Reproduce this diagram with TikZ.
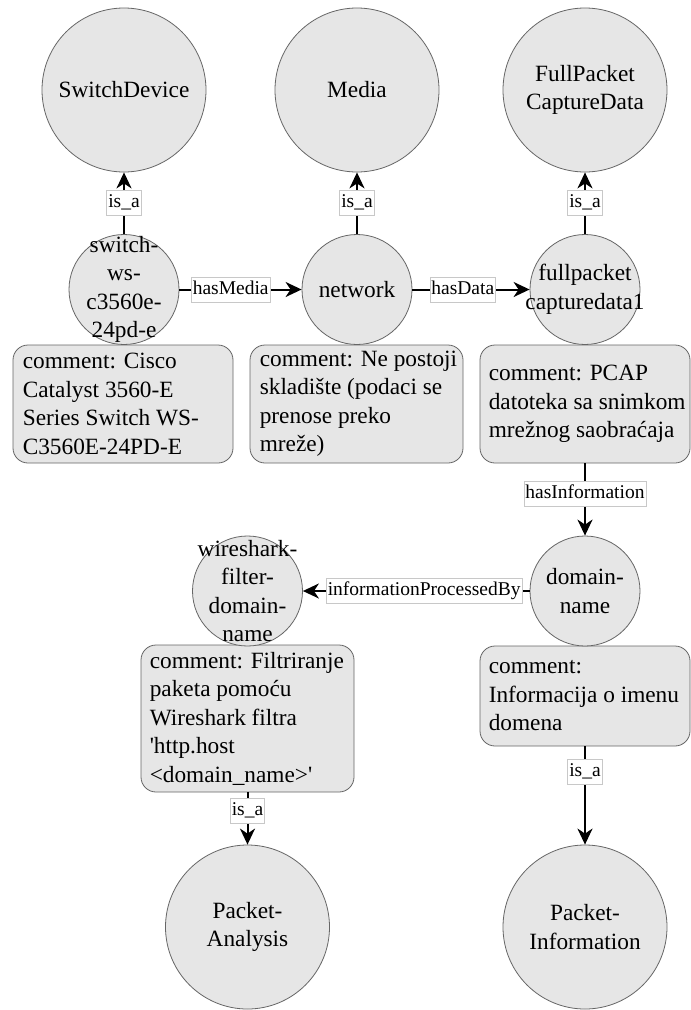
\documentclass[tikz,border=0pt]{standalone}
\usepackage{fontspec}
\setmainfont{Liberation Serif}
\usetikzlibrary{arrows.meta}
\definecolor{nodefill}{HTML}{E6E6E6}
\definecolor{nodeline}{HTML}{666666}
\definecolor{lblline}{HTML}{C8C8C8}
\tikzset{
 ent/.style={circle, fill=nodefill, draw=nodeline, line width=0.8pt, inner sep=0pt, minimum size=110pt},
 cls/.style={ent, minimum size=164pt},
 ctext/.style={align=center, font=\fontsize{23.3}{28.5}\selectfont, inner sep=0pt},
 cmt/.style={rectangle, rounded corners=15pt, fill=nodefill, draw=nodeline, line width=0.8pt, inner sep=0pt},
 ctxt/.style={align=left, font=\fontsize{23.3}{28.5}\selectfont, inner sep=0pt, anchor=west},
 rel/.style={-{Stealth[length=16pt,width=15pt,inset=5pt]}, line width=2pt, black},
 elab/.style={fill=white, draw=lblline, line width=0.6pt, font=\fontsize{19.5}{22}\selectfont, inner xsep=1.5pt, inner ysep=3.5pt, text height=13.5pt, text depth=4.5pt},
}
\begin{document}
\begin{tikzpicture}[x=1pt,y=-1pt]
\path[use as bounding box, fill=white] (0,0) rectangle (691,1010);
% comment boxes
\node[cmt, minimum width=220pt, minimum height=118pt] (swc) at (123,404) {};
\node[ctxt] (swct) at ([xshift=10pt]swc.west) {comment: Cisco\\Catalyst 3560-E\\Series Switch WS-\\C3560E-24PD-E};
\node[cmt, minimum width=213pt, minimum height=118pt] (netc) at (356.5,404) {};
\node[ctxt] (netct) at ([xshift=10pt]netc.west) {comment: Ne postoji\\skladište (podaci se\\prenose preko\\mreže)};
\node[cmt, minimum width=210pt, minimum height=118pt] (fpcc) at (585,404) {};
\node[ctxt] (fpcct) at ([xshift=9pt]fpcc.west) {comment: PCAP\\datoteka sa snimkom\\mrežnog saobraćaja};
\node[cmt, minimum width=210pt, minimum height=100pt] (domc) at (585,696) {};
\node[ctxt] (domct) at ([xshift=9pt]domc.west) {comment:\\Informacija o imenu\\domena};
\node[cmt, minimum width=213pt, minimum height=147pt] (wsfc) at (247.5,718.5) {};
\node[ctxt] (wsfct) at ([xshift=9pt]wsfc.west) {comment: Filtriranje\\paketa pomoću\\Wireshark filtra\\\textquotesingle http.host\\<domain\_name>\textquotesingle};
% class circles
\node[cls, label={[ctext]center:SwitchDevice}] (SD) at (124,90) {};
\node[cls, label={[ctext]center:Media}] (Media) at (357,90) {};
\node[cls, label={[ctext]center:FullPacket\\CaptureData}] (FPCD) at (585,90) {};
\node[cls, label={[ctext]center:Packet-\\Analysis}] (PA) at (247.5,927) {};
\node[cls, label={[ctext]center:Packet-\\Information}] (PI) at (585,927) {};
% individual circles
\node[ent, label={[ctext]center:switch-\\ws-\\c3560e-\\24pd-e}] (sw) at (124,289.5) {};
\node[ent, label={[ctext]center:network}] (net) at (357,289.5) {};
\node[ent, label={[ctext]center:fullpacket\\capturedata1}] (fpc) at (585,289.5) {};
\node[ent, label={[ctext]center:domain-\\name}] (dom) at (585,591) {};
\node[ent, label={[ctext]center:wireshark-\\filter-\\domain-\\name}] (wsf) at (247.5,591) {};
% relations
\draw[rel] (sw) -- node[elab]{is\_a} (SD);
\draw[rel] (net) -- node[elab]{is\_a} (Media);
\draw[rel] (fpc) -- node[elab]{is\_a} (FPCD);
\draw[rel] (sw) -- node[elab,pos=0.42]{hasMedia} (net);
\draw[rel] (net) -- node[elab,pos=0.43]{hasData} (fpc);
\draw[rel] (fpcc) -- node[elab,pos=0.42]{hasInformation} (dom);
\draw[rel] (dom) -- node[elab,pos=0.465]{informationProcessedBy} (wsf);
\draw[rel] (wsfc) -- node[elab,pos=0.35]{is\_a} (PA);
\draw[rel] (domc) -- node[elab,pos=0.26]{is\_a} (PI);
\end{tikzpicture}
\end{document}
